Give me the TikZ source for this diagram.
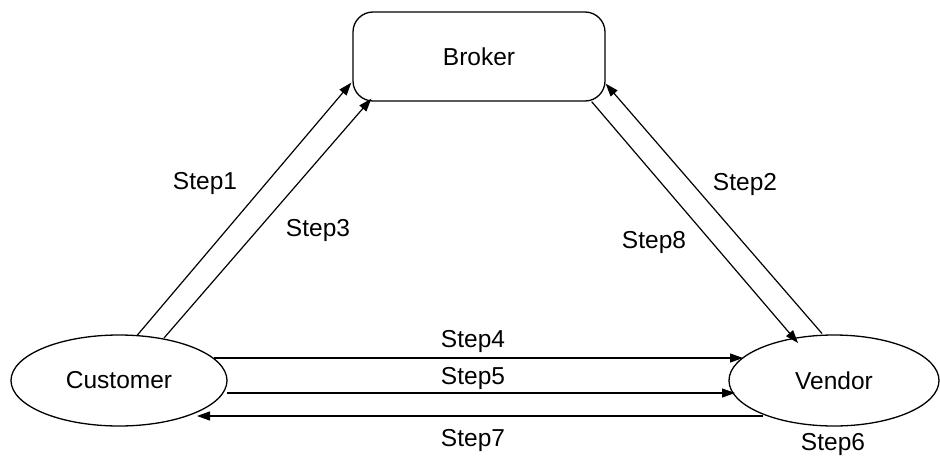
\documentclass[tikz,border=0pt]{standalone}
\usepackage{fontspec}
\setmainfont{Liberation Sans}
\usetikzlibrary{arrows.meta,shapes.geometric}
\begin{document}
\begin{tikzpicture}[x=1pt,y=-1pt,
  every node/.style={font=\fontsize{24.5}{28}\selectfont},
  stadium/.style={draw,line width=1.3pt,rounded corners=20pt,minimum width=252pt,minimum height=89pt,inner sep=0pt},
  actor/.style={draw,ellipse,line width=1.3pt,minimum width=216pt,minimum height=91pt,inner sep=0pt},
  flow/.style={line width=1.2pt,-{Triangle[length=13pt,width=9pt]}},
  lbl/.style={inner sep=0pt}]
\useasboundingbox (0,0) rectangle (940,458);
\node[stadium] (B) at (479,56.5) {Broker};
\node[actor] (C) at (119,380.5) {Customer};
\node[actor,minimum width=210pt] (V) at (834,380.5) {Vendor};
% connectors
\draw[flow] ([shift={(18,-45)}]C.center) -- ([shift={(-1,-19)}]B.south west);
\draw[flow] ([shift={(45,-42.5)}]C.center) -- ([shift={(19,-3)}]B.south west);
\draw[flow] ([shift={(-12,-47)}]V.center) -- ([shift={(0,-18)}]B.south east);
\draw[flow] ([shift={(-14,0)}]B.south east) -- ([shift={(-36,-37.5)}]V.center);
\draw[flow] ([shift={(95,-22.5)}]C.center) -- ([shift={(-91,-22.5)}]V.center);
\draw[flow] ([shift={(108,12.5)}]C.center) -- ([shift={(-99,12.5)}]V.center);
\draw[flow] ([shift={(-71,35.5)}]V.center) -- ([shift={(78,35.5)}]C.center);
% labels
\node[lbl] (s1) at (205,183) {Step1};
\node[lbl] (s3) at (318,230) {Step3};
\node[lbl] (s2) at (745,184) {Step2};
\node[lbl] (s8) at (654,242) {Step8};
\node[lbl] (s4) at (473,341) {Step4};
\node[lbl] (s5) at (473,378) {Step5};
\node[lbl] (s7) at (473,440) {Step7};
\node[lbl] (s6) at (833,444) {Step6};
\end{tikzpicture}
\end{document}
